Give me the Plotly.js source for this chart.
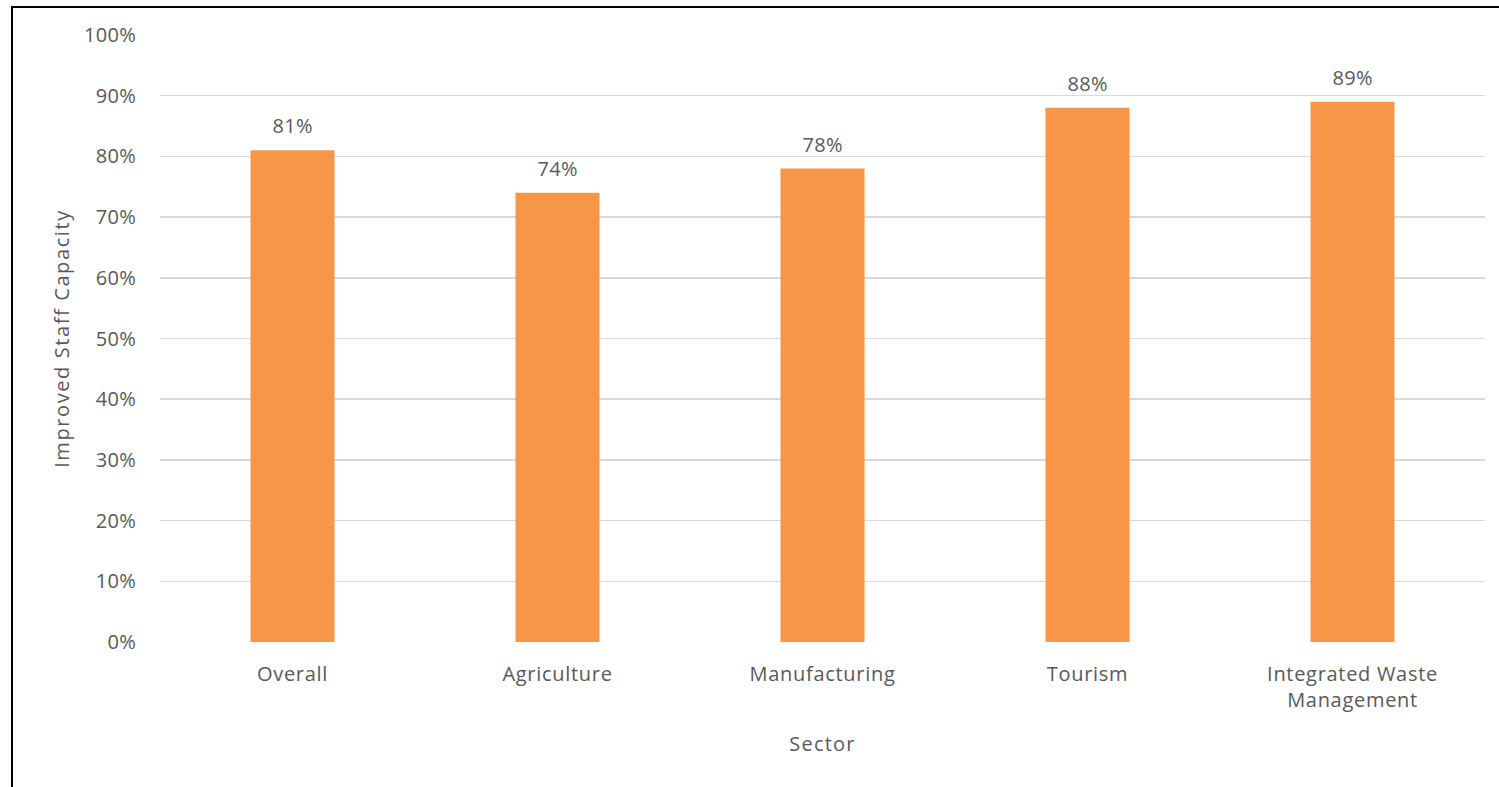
<!DOCTYPE html>
<html>
<head>
<meta charset="utf-8">
<script src="https://cdn.plot.ly/plotly-3.0.1.min.js"></script>
<style>
html,body{margin:0;padding:0;background:#fff;}
#chart{width:1499px;height:787px;position:relative;}
#frame{position:absolute;left:11px;top:6px;width:1500px;height:800px;border-left:2px solid #000;border-top:2px solid #000;pointer-events:none;}
#chart g.xtick text{letter-spacing:0.7px;}
#chart g.ytick text{letter-spacing:0.3px;}
#chart text.xtitle{letter-spacing:1.2px;}
#chart text.ytitle{letter-spacing:1.6px;}
#chart g.annotation text{letter-spacing:0.3px;}
</style>
</head>
<body>
<div id="chart"></div>
<div id="frame"></div>
<script>
const categories = ["Overall", "Agriculture", "Manufacturing", "Tourism", "Integrated Waste<br>Management"];
const values = [0.81, 0.74, 0.78, 0.88, 0.89];
const labels = ["81%", "74%", "78%", "88%", "89%"];
const yTickVals = [0, 0.1, 0.2, 0.3, 0.4, 0.5, 0.6, 0.7, 0.8, 0.9, 1.0];
const yTickText = ["0%", "10%", "20%", "30%", "40%", "50%", "60%", "70%", "80%", "90%", "100%"];

const font = "'Open Sans', 'Noto Sans', sans-serif";
const grey = "#595959";

const trace = {
  type: "bar",
  x: categories,
  y: values,
  marker: {color: "#F79646"},
  hoverinfo: "none"
};

const annotations = categories.map((c, i) => ({
  x: c, y: values[i], xref: "x", yref: "y",
  text: labels[i], showarrow: false,
  yanchor: "bottom", yshift: 9,
  font: {family: font, size: 20, color: grey}
}));

const layout = {
  width: 1499, height: 787,
  margin: {l: 160, r: 14, t: 35, b: 145},
  paper_bgcolor: "#fff", plot_bgcolor: "#fff",
  bargap: 0.683,
  showlegend: false,
  font: {family: font, size: 20, color: grey},
  xaxis: {
    showgrid: false, zeroline: false, showline: false,
    ticks: "outside", ticklen: 14, tickcolor: "rgba(0,0,0,0)",
    tickfont: {family: font, size: 20, color: grey},
    title: {text: "Sector", font: {family: font, size: 20, color: grey}, standoff: 24}
  },
  yaxis: {
    range: [0, 1.0],
    tickvals: yTickVals, ticktext: yTickText,
    showgrid: true, gridcolor: "#d9d9d9", gridwidth: 1.5,
    zeroline: false, showline: false,
    ticks: "outside", ticklen: 19, tickcolor: "rgba(0,0,0,0)",
    tickfont: {family: font, size: 20, color: grey},
    title: {text: "Improved Staff Capacity", font: {family: font, size: 20, color: grey}, standoff: 10}
  },
  annotations: annotations
};

Plotly.newPlot("chart", [trace], layout, {displayModeBar: false, staticPlot: true});
</script>
</body>
</html>
